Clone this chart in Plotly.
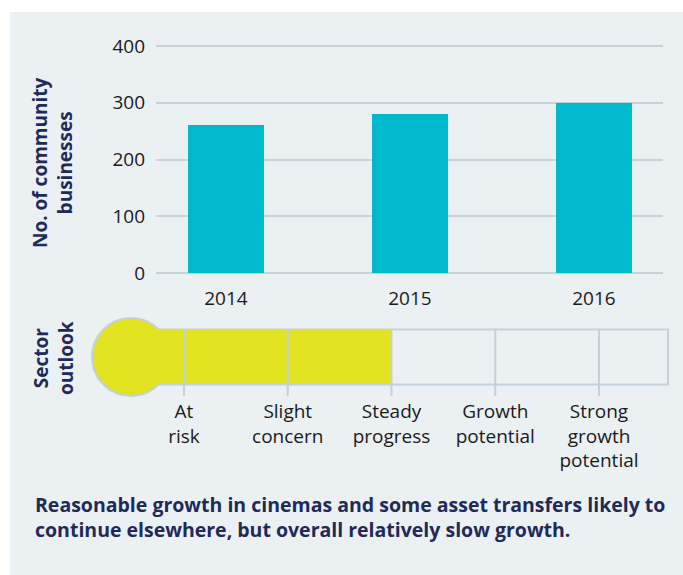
import plotly.graph_objects as go

years = [2014, 2015, 2016]
businesses = [260, 280, 300]

outlook_levels = ["At<br>risk", "Slight<br>concern", "Steady<br>progress",
                  "Growth<br>potential", "Strong<br>growth<br>potential"]
current_outlook = "Steady<br>progress"

y_title = "No. of community<br>businesses"
outlook_title = "Sector<br>outlook"
caption = ("Reasonable growth in cinemas and some asset transfers likely to<br>"
           "continue elsewhere, but overall relatively slow growth.")

W, H = 683, 575
FONT = "Open Sans"
NAVY = "#1e2a5a"
TEAL = "#00b9cc"
YELLOW = "#e1e31e"
OUTLINE = "#c3d1db"
PANEL = "#ebf0f3"
GRID = "#c8d2db"
INK = "#1a1a1a"


def fx(px):
    return px / W


def fy(py):
    return 1 - py / H


fig = go.Figure()

# bar chart
fig.add_trace(go.Bar(x=years, y=businesses, width=0.413, marker_color=TEAL,
                     marker_line_width=0, xaxis="x", yaxis="y"))

# thermometer scale: 1 unit per level, 103.75 px apart, first level at 184px
unit = 103.75
lvl0 = 184
bulb_x = (131 - lvl0) / unit
bulb_r = 39
tube_half = 27.5
tube_end = (668 - lvl0) / unit
level_idx = outlook_levels.index(current_outlook)

fig.add_trace(go.Bar(y=[0], x=[level_idx - bulb_x], base=[bulb_x], orientation="h",
                     width=2 * tube_half - 1, marker_color=YELLOW, marker_line_width=0,
                     xaxis="x2", yaxis="y2"))

# dividers between levels, running through the tube and out below it
div_x, div_y = [], []
for i in range(len(outlook_levels)):
    div_x += [i, i, None]
    div_y += [tube_half, -39, None]
fig.add_trace(go.Scatter(x=div_x, y=div_y, mode="lines", line=dict(color=OUTLINE, width=2),
                         xaxis="x2", yaxis="y2", hoverinfo="skip"))

shapes = [
    dict(type="rect", xref="paper", yref="paper", x0=fx(10), x1=1, y0=0, y1=fy(12),
         fillcolor=PANEL, line_width=0, layer="below"),
    dict(type="rect", xref="x2", yref="y2", x0=bulb_x, x1=tube_end, y0=-tube_half, y1=tube_half,
         line=dict(color=OUTLINE, width=2), fillcolor="rgba(0,0,0,0)", layer="below"),
    dict(type="circle", xref="x2", yref="y2", x0=bulb_x - bulb_r / unit, x1=bulb_x + bulb_r / unit,
         y0=-bulb_r, y1=bulb_r, line=dict(color=OUTLINE, width=2), fillcolor=YELLOW, layer="below"),
]

bold = dict(family=FONT, size=19, color=NAVY, weight="bold")
annotations = [
    dict(text=y_title, x=fx(53), y=fy(163), xref="paper", yref="paper", textangle=-90,
         xanchor="center", yanchor="middle", showarrow=False, font=bold),
    dict(text=outlook_title, x=fx(53), y=fy(358), xref="paper", yref="paper", textangle=-90,
         xanchor="center", yanchor="middle", showarrow=False, font=bold),
    dict(text=caption, x=fx(33), y=fy(517), xref="paper", yref="paper", xanchor="left",
         yanchor="middle", align="left", showarrow=False, font=dict(bold, size=19.5)),
]

# y scale: 0 -> 273px, 400 -> 46px
ppu = (273 - 46) / 400
y_lo, y_hi = -5, 405

fig.update_layout(
    width=W, height=H,
    margin=dict(l=0, r=0, t=0, b=0, autoexpand=False),
    paper_bgcolor="white",
    plot_bgcolor="rgba(0,0,0,0)",
    showlegend=False,
    bargap=0,
    font=dict(family=FONT, size=19, color=INK),
    xaxis=dict(domain=[fx(156), fx(663)], range=[2013.62, 2016.375], tickvals=years,
               showgrid=False, zeroline=False, showline=False, ticks="",
               ticklabelstandoff=9, automargin=False),
    yaxis=dict(domain=[fy(273 - y_lo * ppu), fy(273 - y_hi * ppu)], range=[y_lo, y_hi],
               tickvals=[0, 100, 200, 300, 400], anchor="x", automargin=False,
               gridcolor=GRID, gridwidth=1.5, zeroline=False, showline=False, ticks="",
               ticklabelstandoff=10),
    xaxis2=dict(domain=[fx(88), fx(674)], range=[(88 - lvl0) / unit, (674 - lvl0) / unit],
                anchor="y2", tickvals=list(range(len(outlook_levels))), ticktext=outlook_levels,
                showgrid=False, zeroline=False, showline=False, ticks="", automargin=False,
                tickfont=dict(size=19, color=INK)),
    yaxis2=dict(domain=[fy(398), fy(316)], range=[-41, 41], anchor="x2", automargin=False,
                showgrid=False, zeroline=False, showline=False, showticklabels=False),
    shapes=shapes,
    annotations=annotations,
)

fig.write_html("out.html", config={"displayModeBar": False},
               post_script="document.body.style.margin='0';document.body.style.overflow='hidden';")
